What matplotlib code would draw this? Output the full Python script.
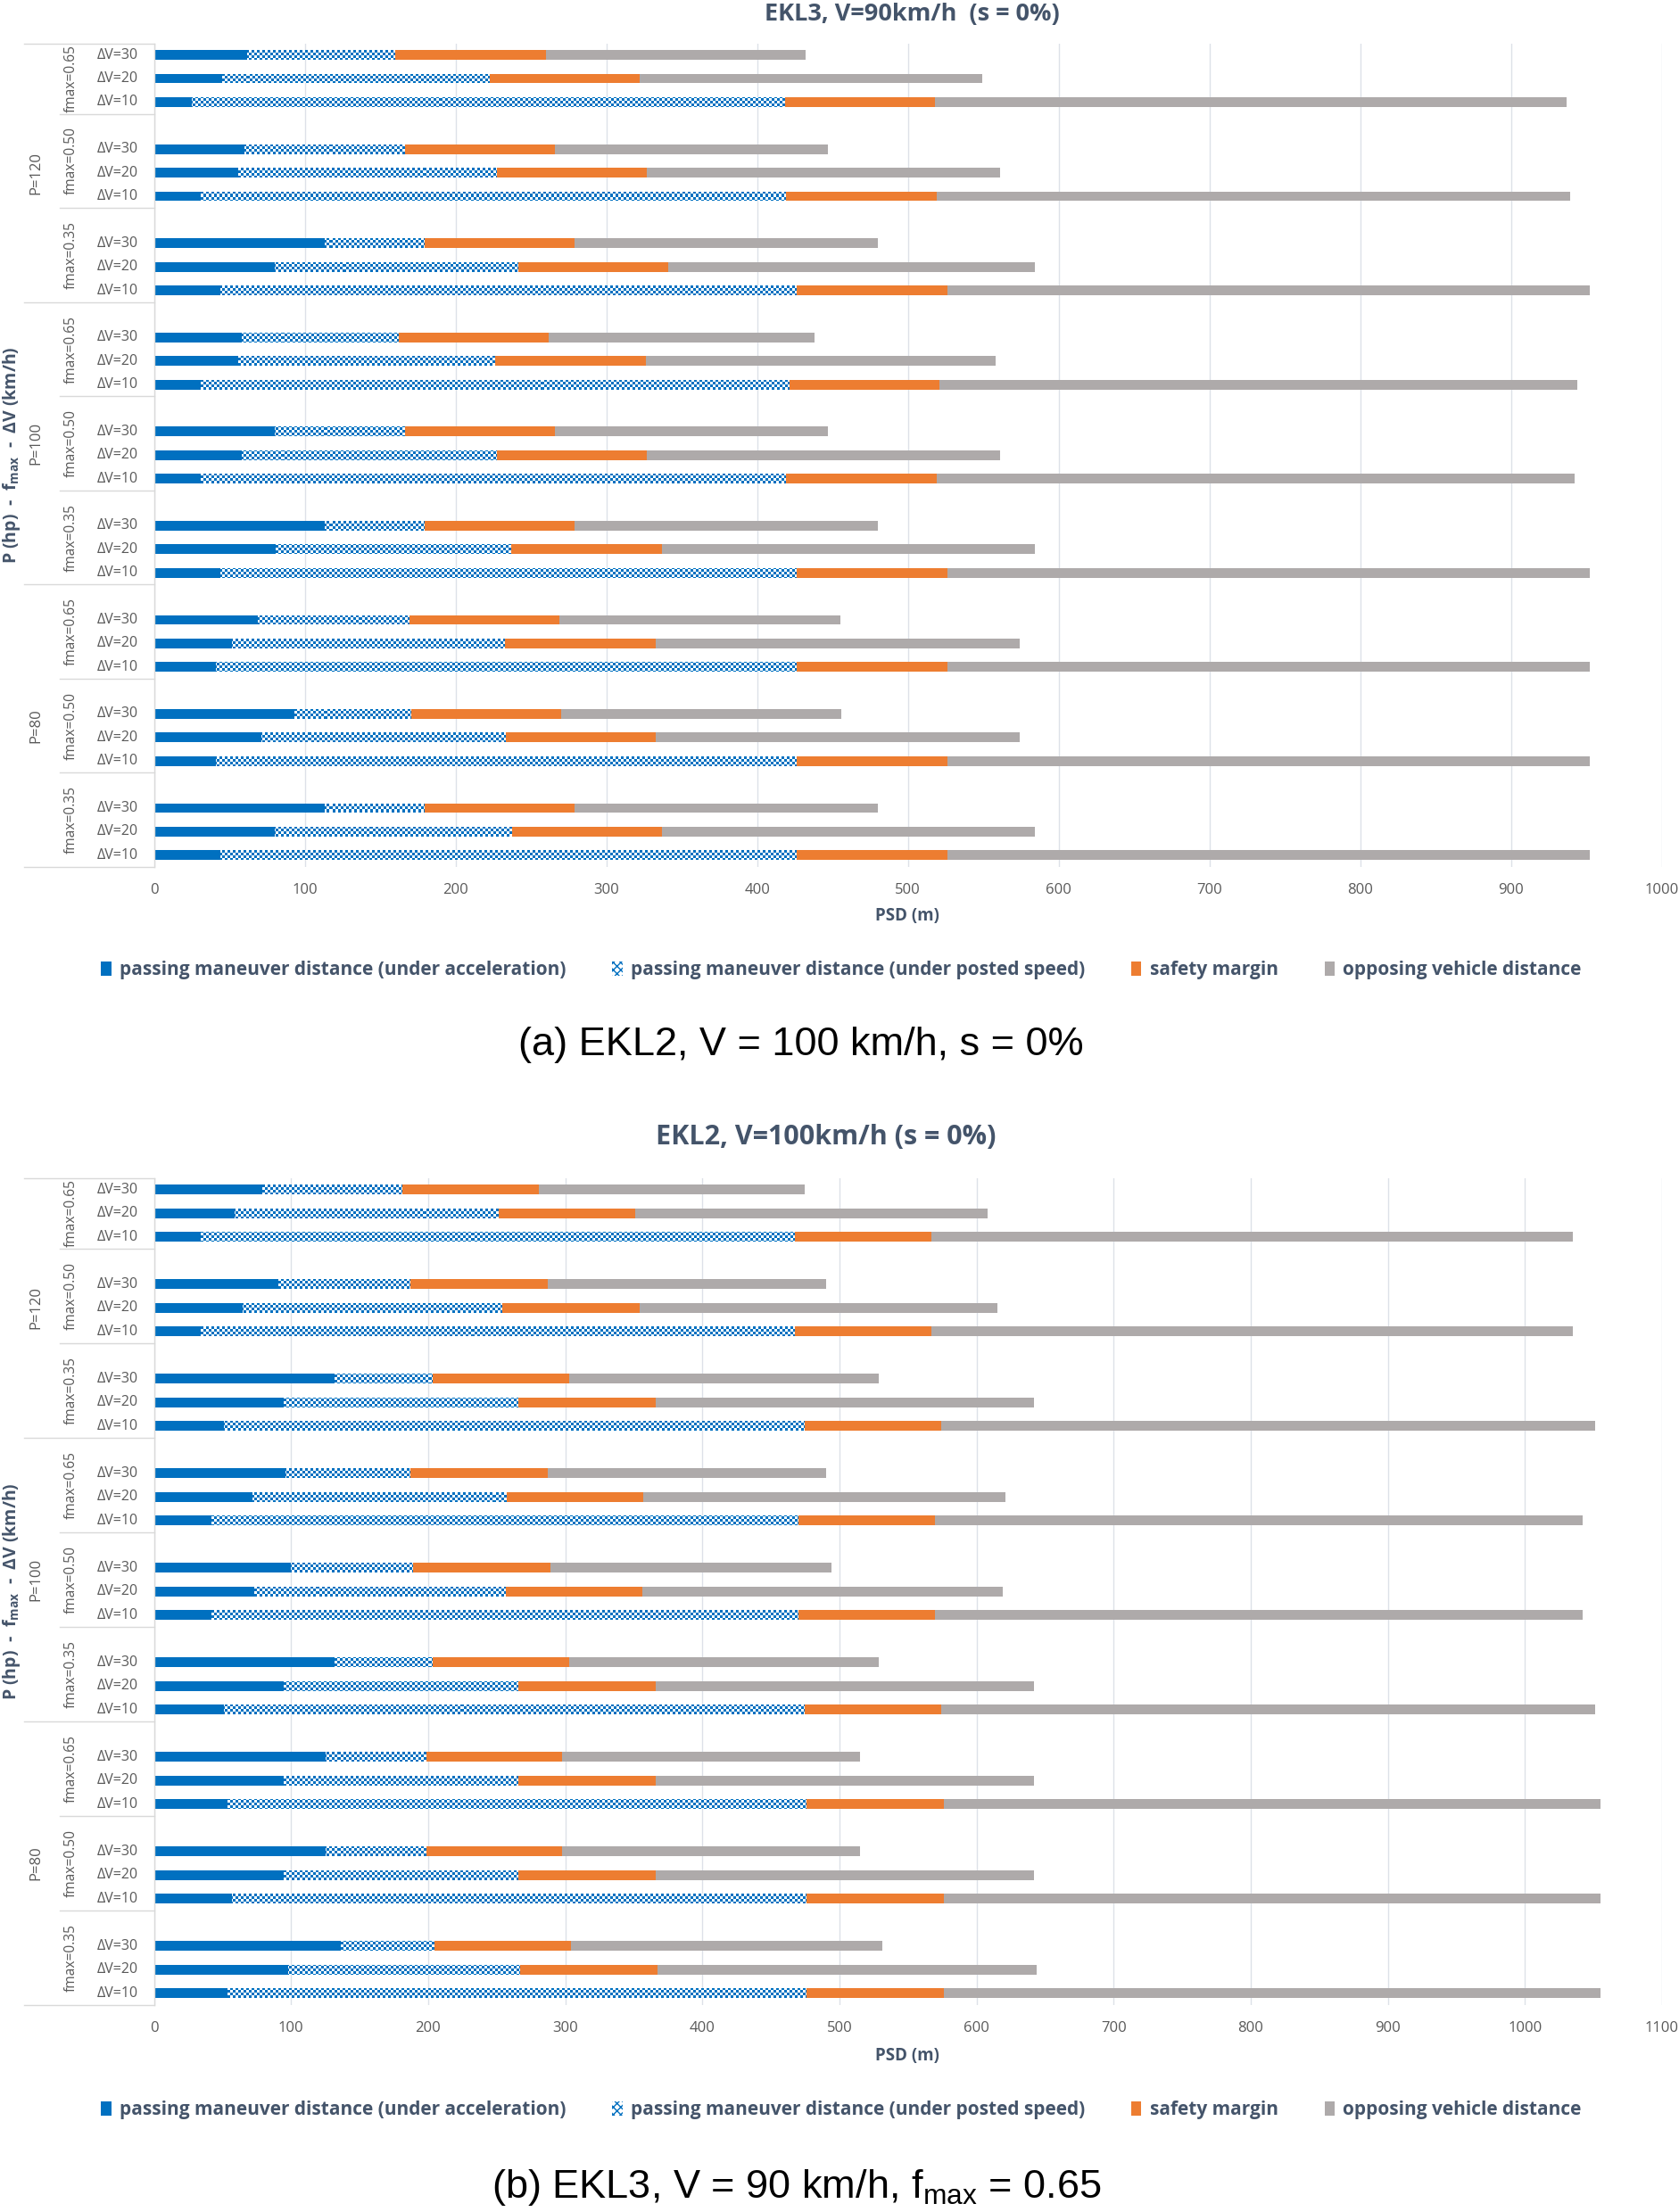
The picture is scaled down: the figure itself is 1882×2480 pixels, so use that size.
import numpy as np
import matplotlib
matplotlib.use("Agg")
import matplotlib.pyplot as plt
from matplotlib.patches import Patch

plt.rcParams['font.family'] = ['Open Sans', 'DejaVu Sans']

# categories, listed top to bottom as in the chart
power = ["P=120", "P=100", "P=80"]
fmax = ["fmax=0.65", "fmax=0.50", "fmax=0.35"]
dv = ["ΔV=30", "ΔV=20", "ΔV=10"]
xticks_a = [0, 100, 200, 300, 400, 500, 600, 700, 800, 900, 1000]
xticks_b = [0, 100, 200, 300, 400, 500, 600, 700, 800, 900, 1000, 1100]

series = ["passing maneuver distance (under acceleration)",
          "passing maneuver distance (under posted speed)",
          "safety margin",
          "opposing vehicle distance"]

# upper chart, segment lengths (m)
accel_a = [62, 45, 25, 60, 56, 31, 113, 80, 44,
           58, 56, 31, 80, 58, 31, 113, 81, 44,
           69, 52, 41, 93, 71, 41, 113, 80, 44]
posted_a = [98, 177, 393, 106, 171, 388, 66, 161, 382,
            104, 170, 390, 86, 169, 388, 66, 156, 382,
            100, 181, 385, 77, 162, 385, 66, 157, 382]
safety_a = [100, 100, 100, 100, 100, 100, 100, 100, 100,
            100, 100, 100, 100, 100, 100, 100, 100, 100,
            100, 100, 100, 100, 100, 100, 100, 100, 100]
opposing_a = [172, 227, 419, 181, 234, 420, 201, 243, 426,
              176, 232, 423, 181, 234, 423, 201, 247, 426,
              186, 241, 426, 186, 241, 426, 201, 247, 426]

# lower chart, segment lengths (m)
accel_b = [79, 59, 34, 91, 65, 34, 132, 95, 51,
           96, 72, 42, 100, 73, 42, 132, 95, 51,
           125, 95, 54, 125, 95, 57, 136, 98, 54]
posted_b = [102, 192, 433, 96, 189, 433, 71, 171, 423,
            91, 185, 428, 89, 183, 428, 71, 171, 423,
            73, 171, 422, 73, 171, 419, 68, 169, 422]
safety_b = [100, 100, 100, 100, 100, 100, 100, 100, 100,
            100, 100, 100, 100, 100, 100, 100, 100, 100,
            100, 100, 100, 100, 100, 100, 100, 100, 100]
opposing_b = [194, 257, 468, 203, 261, 468, 226, 276, 477,
              203, 264, 472, 205, 263, 472, 226, 276, 477,
              217, 276, 479, 217, 276, 479, 227, 277, 479]

BLUE = "#0070C0"
ORANGE = "#ED7D31"
GREY = "#AEAAAA"
GRID = "#DDE1E8"
SEP = "#D9D9D9"
TXT = "#595959"
HEAD = "#44546A"

W, H = 1882, 2480
fig = plt.figure(figsize=(W / 100, H / 100), dpi=100)


def fx(px):
    return px / W


def fy(py):
    return 1 - py / H


def checker(ax, rect, cell=3):
    # fill a bar with a blue/white checker board, pixel aligned
    x0, y0 = rect.get_x(), rect.get_y()
    p0 = ax.transData.transform((x0, y0))
    p1 = ax.transData.transform((x0 + rect.get_width(), y0 + rect.get_height()))
    ix = np.arange(int(np.floor(p0[0])), int(np.ceil(p1[0])))
    iy = np.arange(int(np.floor(p0[1])), int(np.ceil(p1[1])))
    mask = ((ix[None, :] // cell + iy[:, None] // cell) % 2).astype(bool)
    img = np.ones(mask.shape + (3,))
    img[mask] = (0 / 255, 112 / 255, 192 / 255)
    inv = ax.transData.inverted()
    e0 = inv.transform((ix[0], iy[0]))
    e1 = inv.transform((ix[-1] + 1, iy[-1] + 1))
    im = ax.imshow(img, extent=(e0[0], e1[0], e0[1], e1[1]), origin='lower',
                   interpolation='nearest', aspect='auto', zorder=2.5)
    im.set_clip_path(rect)


def panel(top_px, bot_px, accel, posted, safety, opposing, xticks):
    left_px, right_px = 172.5, 1863
    ax = fig.add_axes([fx(left_px), fy(bot_px), fx(right_px - left_px),
                       (bot_px - top_px) / H])
    ax.set_xlim(xticks[0], xticks[-1])
    ax.set_ylim(-0.5, 34.5)

    # slot from top: 4 per fmax group (3 bars + 1 gap)
    slots = [4 * g + r for g in range(9) for r in range(3)]
    y = 34 - np.array(slots)
    a = np.array(accel)
    p = np.array(posted)
    s = np.array(safety)
    o = np.array(opposing)
    h = 0.41
    ax.barh(y, a, height=h, color=BLUE, zorder=2)
    chk = ax.barh(y, p, left=a, height=h, color='white', zorder=2)
    ax.barh(y, s, left=a + p, height=h, color=ORANGE, zorder=2)
    ax.barh(y, o, left=a + p + s, height=h, color=GREY, zorder=2)
    for rect in chk:
        checker(ax, rect)
    ax.set_xlim(xticks[0], xticks[-1])
    ax.set_ylim(-0.5, 34.5)

    ax.set_xticks(xticks)
    ax.set_yticks([])
    ax.xaxis.grid(True, color=GRID, lw=1.0)
    ax.set_axisbelow(True)
    ax.tick_params(axis='x', length=0, labelsize=12, labelcolor=TXT, pad=13)
    for sp in ['top', 'right', 'bottom']:
        ax.spines[sp].set_visible(False)
    ax.spines['left'].set_color(SEP)
    ax.spines['left'].set_linewidth(1.0)

    width = right_px - left_px

    def ax_x(px):
        return (px - left_px) / width

    tr = ax.get_yaxis_transform()
    # category labels
    for i, yy in enumerate(y):
        ax.text(ax_x(155), yy, dv[i % 3], transform=tr, ha='right', va='center',
                fontsize=11.5, color=TXT, clip_on=False)
    for g in range(9):
        c = 1 if g == 0 else 4 * g + 0.5
        ax.text(ax_x(80), 34 - c, fmax[g % 3], transform=tr, ha='center',
                va='center', rotation=90, fontsize=11.2, color=TXT, clip_on=False)
    for k in range(3):
        c = 5 if k == 0 else 12 * k + 4.5
        ax.text(ax_x(40), 34 - c, power[k], transform=tr, ha='center',
                va='center', rotation=90, fontsize=12, color=TXT, clip_on=False)
    # separator lines in the label area
    bounds = [34.5] + [31.5 - 4 * g for g in range(8)] + [-0.5]
    for j, yy in enumerate(bounds):
        long = j in (0, 3, 6, 9)
        x0 = ax_x(27) if long else ax_x(67)
        ax.plot([x0, 0], [yy, yy], transform=tr, color=SEP, lw=1.0,
                clip_on=False, zorder=1)
    return ax


panel(48.5, 972, accel_a, posted_a, safety_a, opposing_a, xticks_a)
panel(1320.5, 2248, accel_b, posted_b, safety_b, opposing_b, xticks_b)

ytitle = r'P (hp)  -  f$_{\mathregular{max}}$  -  ΔV (km/h)'
for yc in (510, 1784):
    fig.text(fx(13), fy(yc), ytitle, rotation=90, ha='center', va='center',
             fontsize=14, fontweight='bold', color=HEAD)

fig.text(fx(1022), fy(16), "EKL3, V=90km/h  (s = 0%)", ha='center', va='center',
         fontsize=19.5, fontweight='bold', color=HEAD)
fig.text(fx(926), fy(1275), "EKL2, V=100km/h (s = 0%)", ha='center', va='center',
         fontsize=22, fontweight='bold', color=HEAD)

for yc in (1027, 2305):
    fig.text(fx(1017), fy(yc), "PSD (m)", ha='center', va='center',
             fontsize=13.5, fontweight='bold', color=HEAD)

handles = [Patch(facecolor=BLUE, edgecolor='none'),
           Patch(facecolor='white', edgecolor=BLUE, hatch='xxxx', lw=0),
           Patch(facecolor=ORANGE, edgecolor='none'),
           Patch(facecolor=GREY, edgecolor='none')]
for yc in (1088, 2366):
    fig.legend(handles, series, loc='center', bbox_to_anchor=(fx(943), fy(yc)),
               ncol=4, frameon=False, prop={'weight': 'bold', 'size': 15},
               labelcolor=HEAD, handlelength=0.53, handleheight=0.8,
               handletextpad=0.45, columnspacing=2.5)

cap = ['Liberation Sans', 'DejaVu Sans']
fig.text(fx(898), fy(1183), "(a) EKL2, V = 100 km/h, s = 0%", ha='center',
         va='baseline', fontsize=32.5, family=cap, color='black')
fig.text(fx(893), fy(2464), r"(b) EKL3, V = 90 km/h, f$_{\mathregular{max}}$ = 0.65",
         ha='center', va='baseline', fontsize=32.5, family=cap, color='black')

fig.savefig("out.png", dpi=100)
